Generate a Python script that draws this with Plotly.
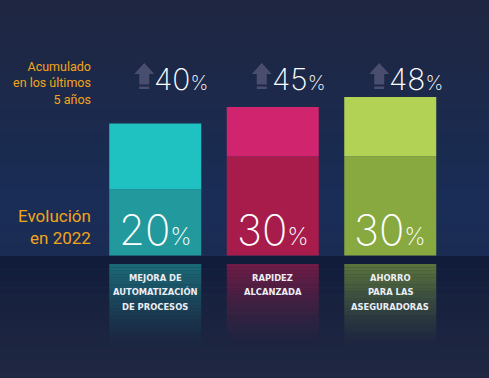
import plotly.graph_objects as go

# ---- data ----
categories = ["MEJORA DE\nAUTOMATIZACIÓN\nDE PROCESOS", "RAPIDEZ\nALCANZADA", "AHORRO\nPARA LAS\nASEGURADORAS"]
evolucion_2022 = [20, 30, 30]
acumulado_5 = [40, 45, 48]
upper_colors = ["#1fc1c1", "#d0246f", "#b2d256"]
lower_colors = ["#229a9d", "#a81c4c", "#87a93f"]
left_top_label = "Acumulado<br>en los últimos<br>5 años"
left_bottom_label = "Evolución<br>en 2022"

W, H = 489, 378
PX_PER_UNIT_Y = 3.3
BASE_PX = 255.5
X0_PX = 155.25
PX_PER_CAT = 117.5

def ydata(px):
    return (BASE_PX - px) / PX_PER_UNIT_Y

def xdata(px):
    return (px - X0_PX) / PX_PER_CAT

def dx(px):
    return px / PX_PER_CAT

xs = list(range(len(categories)))
bar_w = 92 / PX_PER_CAT

fig = go.Figure()

# main bars (stacked: 2022 evolution + remainder of 5-year accumulated)
fig.add_trace(go.Bar(x=xs, y=evolucion_2022, width=bar_w,
                     marker=dict(color=lower_colors, line=dict(width=0)), hoverinfo="skip"))
fig.add_trace(go.Bar(x=xs, y=[a - e for a, e in zip(acumulado_5, evolucion_2022)],
                     base=evolucion_2022, width=bar_w,
                     marker=dict(color=upper_colors, line=dict(width=0)), hoverinfo="skip"))

# reflections (fading slices below the baseline)
N = 24
refl_top = ydata(264)
refl_bottom = ydata(346)
h = (refl_top - refl_bottom) / N
for k in range(N):
    op = 0.62 * (1 - k / N) ** 1.3
    fig.add_trace(go.Bar(x=xs, y=[-h] * len(xs), base=[refl_top - k * h] * len(xs), width=bar_w,
                         marker=dict(color=lower_colors, opacity=op, line=dict(width=0)),
                         hoverinfo="skip"))

# background strips
def lerp(c1, c2, t):
    a = [int(c1[i:i + 2], 16) for i in (1, 3, 5)]
    b = [int(c2[i:i + 2], 16) for i in (1, 3, 5)]
    return "#%02x%02x%02x" % tuple(round(a[i] + (b[i] - a[i]) * t) for i in range(3))

stops = [(0, "#1f2641"), (150, "#1a2b50"), (200, "#1a2d57"), (256, "#1b2c54"),
         (256.01, "#0f1b3a"), (300, "#18223f"), (378, "#1f2741")]
shapes = []
for (p0, c0), (p1, c1) in zip(stops[:-1], stops[1:]):
    steps = max(1, int((p1 - p0) / 6))
    for s in range(steps):
        a = p0 + (p1 - p0) * s / steps
        b = p0 + (p1 - p0) * (s + 1) / steps
        shapes.append(dict(type="rect", xref="paper", yref="paper", x0=0, x1=1,
                           y0=1 - b / H, y1=1 - a / H, line=dict(width=0),
                           fillcolor=lerp(c0, c1, (s + 0.5) / steps), layer="below"))

# arrow icons
for i in xs:
    m = i - dx(11)
    l, r = m - dx(10), m + dx(10)
    sl, sr = m - dx(5), m + dx(5)
    y_tip, y_head, y_stem, y_b0, y_b1 = ydata(63), ydata(74), ydata(84.5), ydata(86.5), ydata(89)
    path = (f"M {l},{y_head} L {m},{y_tip} L {r},{y_head} L {sr},{y_head} L {sr},{y_stem} "
            f"L {sl},{y_stem} L {sl},{y_head} Z "
            f"M {sl},{y_b0} L {sr},{y_b0} L {sr},{y_b1} L {sl},{y_b1} Z")
    shapes.append(dict(type="path", xref="x", yref="y", path=path,
                       fillcolor="#4a4e6e", line=dict(width=0), layer="above"))

annotations = []
for i, a in enumerate(acumulado_5):
    annotations.append(dict(x=i - dx(3), y=ydata(78.5), xref="x", yref="y",
                            text=f"{a}<span style='font-size:20px'>%</span>", showarrow=False,
                            xanchor="left", yanchor="middle",
                            font=dict(family="Inter", size=30, color="#ffffff", weight=200)))
for i, e in enumerate(evolucion_2022):
    annotations.append(dict(x=i, y=ydata(229), xref="x", yref="y",
                            text=f"{e}<span style='font-size:24px'>%</span>", showarrow=False,
                            xanchor="center", yanchor="middle",
                            font=dict(family="Inter", size=42, color="#ffffff", weight=200)))
for i, c in enumerate(categories):
    for j, line in enumerate(c.split("\n")):
        annotations.append(dict(x=i, y=ydata(277 + 14.5 * j), xref="x", yref="y", text=line,
                                showarrow=False, xanchor="center", yanchor="middle",
                                font=dict(family="DejaVu Sans Condensed", size=9.3, color="#eceef5",
                                          weight="bold")))
annotations.append(dict(x=xdata(93), y=ydata(83), xref="x", yref="y", text=left_top_label,
                        showarrow=False, xanchor="right", yanchor="middle", align="right",
                        font=dict(family="Roboto", size=12.5, color="#f2a51a")))
annotations.append(dict(x=xdata(93), y=ydata(227), xref="x", yref="y", text=left_bottom_label,
                        showarrow=False, xanchor="right", yanchor="middle", align="right",
                        font=dict(family="Roboto", size=17, color="#f2a51a")))

fig.update_layout(
    width=W, height=H, margin=dict(l=0, r=0, t=0, b=0),
    barmode="overlay", showlegend=False,
    paper_bgcolor="#1b2a4c", plot_bgcolor="rgba(0,0,0,0)",
    xaxis=dict(range=[xdata(0), xdata(W)], visible=False, fixedrange=True),
    yaxis=dict(range=[ydata(H), ydata(0)], visible=False, fixedrange=True),
    shapes=shapes, annotations=annotations,
)
fig.write_html("out.html", config={"displayModeBar": False},
               post_script="document.body.style.margin='0px';document.body.style.background='#1b2a4c';")
